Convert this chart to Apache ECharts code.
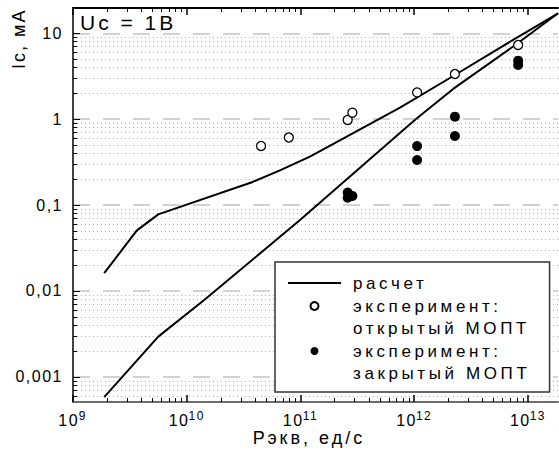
<!DOCTYPE html>
<html><head><meta charset="utf-8">
<script src="https://cdn.jsdelivr.net/npm/echarts@6/dist/echarts.min.js"></script>
<style>
html,body{margin:0;padding:0;background:#fff;}
#c{width:559px;height:454px;}
text[style*="lsA"]{letter-spacing:1.5px;}
text[style*="lsB"]{letter-spacing:3.6px;}
text[style*="lsC"]{letter-spacing:3px;}
text[style*="lsD"]{letter-spacing:2px;}
</style></head><body><div id="c"></div>
<script>
// ---- data ----
const calcOpenX   = [1.88e9, 3.63e9, 5.62e9, 3.8e10, 6.6e10, 1.21e11, 2.55e11, 7.5e11, 2.28e12, 8.2e12, 1.84e13];
const calcOpenY   = [0.0161, 0.0504, 0.078, 0.186, 0.254, 0.366, 0.626, 1.36, 3.27, 9.1, 17.1];
const calcClosedX = [1.88e9, 5.62e9, 1.45e10, 9.9e10, 1.03e12, 2.2e12, 8.0e12, 1.84e13];
const calcClosedY = [5.8e-4, 2.94e-3, 8.0e-3, 0.067, 1.0, 2.25, 7.55, 17.1];
const expOpenX    = [4.5e10, 7.9e10, 2.6e11, 2.86e11, 1.06e12, 2.28e12, 8.2e12];
const expOpenY    = [0.488, 0.612, 0.98, 1.19, 2.05, 3.36, 7.31];
const expClosedX  = [2.6e11, 2.6e11, 2.86e11, 1.06e12, 1.06e12, 2.28e12, 2.28e12, 8.2e12, 8.2e12];
const expClosedY  = [0.122, 0.14, 0.128, 0.486, 0.335, 1.07, 0.637, 4.8, 4.28];
const xMajor = [1e9, 1e10, 1e11, 1e12, 1e13];
const xExpLabels = ['9', '10', '11', '12', '13'];
const yMajor = [0.001, 0.01, 0.1, 1, 10];
const yLabels = ['0,001', '0,01', '0,1', '1', '10'];
const minorMult = [2, 3, 4, 5, 6, 7, 8, 9];
const xDecades = [1e9, 1e10, 1e11, 1e12, 1e13];
const yDecades = [1e-4, 1e-3, 1e-2, 1e-1, 1, 10];
const seriesNames = ['расчет', 'эксперимент:\nоткрытый МОПТ', 'эксперимент:\nзакрытый МОПТ'];
const titleText = 'Uc = 1В';
const xTitle = 'Рэкв, ед/с';
const yTitle = 'Ic, мА';
const xMin = 0.99999e9, xMax = 1.837e13;
const yMin = 5.1e-4, yMax = 19.7;

const xMinor = [], yMinor = [];
xDecades.forEach(d => minorMult.forEach(m => xMinor.push(m * d)));
yDecades.forEach(d => minorMult.forEach(m => yMinor.push(m * d)));
const pairs = (xs, ys) => xs.map((x, i) => [x, ys[i]]);

const F = 'Liberation Sans';
const chart = echarts.init(document.getElementById('c'), null, {renderer: 'svg', width: 559, height: 454});

function baseX(extra) {
  return Object.assign({
    type: 'log', logBase: 10, min: xMin, max: xMax, gridIndex: 0,
    axisLine: {show: false}, axisTick: {show: false}, axisLabel: {show: false},
    splitLine: {show: false}, minorTick: {show: false}, minorSplitLine: {show: false},
    nameMoveOverlap: false
  }, extra);
}
function baseY(extra) {
  return Object.assign({
    type: 'log', logBase: 10, min: yMin, max: yMax, gridIndex: 0,
    axisLine: {show: false}, axisTick: {show: false}, axisLabel: {show: false},
    splitLine: {show: false}, minorTick: {show: false}, minorSplitLine: {show: false},
    nameMoveOverlap: false
  }, extra);
}

const legendRich = {t: {fontFamily: F + ', lsB', fontSize: 17, color: '#000', lineHeight: 22}};

const option = {
  animation: false,
  backgroundColor: '#fff',
  textStyle: {fontFamily: F},
  graphic: [
    {
      type: 'text', x: 80, y: 22.5, silent: true, z: 10,
      style: {
        text: titleText, fontFamily: F + ', lsC', fontSize: 21, fill: '#000',
        align: 'left', verticalAlign: 'middle', textAlign: 'left', textVerticalAlign: 'middle'
      }
    },
    {
      type: 'text', x: 18.5, y: 69, rotation: Math.PI / 2, silent: true,
      style: {
        text: yTitle, fontFamily: F + ', lsD', fontSize: 18, fill: '#000',
        align: 'left', verticalAlign: 'middle', textAlign: 'left', textVerticalAlign: 'middle'
      }
    }
  ],
  grid: {left: 73, right: 1, top: 8, bottom: 52, containLabel: false, outerBoundsMode: 'none'},
  xAxis: [
    baseX({
      position: 'bottom',
      axisLine: {show: true, lineStyle: {color: '#6e6e6e', width: 2}},
      axisTick: {show: true, inside: true, length: 7, customValues: xMajor, lineStyle: {color: '#000', width: 1.5}},
      axisLabel: {
        show: true, margin: 8, customValues: xMajor,
        formatter: function (v) {
          const e = Math.round(Math.log10(v));
          const i = xMajor.findIndex(t => Math.abs(Math.log10(t) - e) < 1e-6);
          return '{b|10}{s|' + xExpLabels[i] + '}';
        },
        rich: {
          b: {fontSize: 16, fontFamily: F + ', lsA', color: '#000', verticalAlign: 'bottom', lineHeight: 18},
          s: {fontSize: 12, fontFamily: F + ', lsA', color: '#000', verticalAlign: 'bottom', lineHeight: 14, padding: [0, 0, 6, 2]}
        }
      },
      name: xTitle, nameLocation: 'middle', nameGap: 27,
      nameTextStyle: {fontFamily: F + ', lsC', fontSize: 18, color: '#000', padding: [0, 13, 0, 0]}
    }),
    baseX({
      position: 'bottom',
      axisTick: {show: true, inside: true, length: 4, customValues: xMinor, lineStyle: {color: '#000', width: 1}}
    }),
    baseX({
      position: 'top',
      axisLine: {show: true, lineStyle: {color: '#000', width: 2}},
      axisTick: {show: true, inside: true, length: 7, customValues: xMajor, lineStyle: {color: '#000', width: 1.5}}
    }),
    baseX({
      position: 'top',
      axisTick: {show: true, inside: true, length: 4, customValues: xMinor, lineStyle: {color: '#000', width: 1}}
    })
  ],
  yAxis: [
    baseY({
      position: 'left',
      axisLine: {show: true, lineStyle: {color: '#000', width: 1.5}},
      axisTick: {show: true, inside: true, length: 7, customValues: yMajor, lineStyle: {color: '#000', width: 1}},
      axisLabel: {
        show: true, margin: 10, customValues: yMajor,
        fontFamily: F + ', lsA', fontSize: 16, color: '#000',
        formatter: function (v) {
          const i = yMajor.findIndex(t => Math.abs(v / t - 1) < 1e-6);
          return i >= 0 ? yLabels[i] : '';
        }
      },
      splitLine: {show: true, lineStyle: {color: '#c4c4c4', width: 1.5, type: [17, 13]}}
    }),
    baseY({
      position: 'left',
      axisTick: {show: true, inside: true, length: 4, customValues: yMinor, lineStyle: {color: '#000', width: 1}},
      splitLine: {show: true, lineStyle: {color: '#b0b0b0', width: 1, type: [1, 3]}}
    })
  ],
  legend: {
    orient: 'vertical', left: 275, top: 262,
    padding: [10, 66, 8, 12],
    itemWidth: 53, itemHeight: 8, itemGap: -21,
    backgroundColor: '#fff', borderColor: '#333', borderWidth: 1.5, borderRadius: 0,
    selectedMode: false,
    formatter: function (name) {
      return name.split('\n').map(s => '{t|' + s + '}').join('\n');
    },
    textStyle: {fontFamily: F + ', lsB', fontSize: 17, color: '#000', lineHeight: 22, rich: legendRich},
    data: [
      {name: seriesNames[0], textStyle: {padding: [0, 0, 0, 7], rich: legendRich},
       itemStyle: {color: 'rgba(0,0,0,0)', borderWidth: 0, opacity: 0},
       lineStyle: {color: '#000', width: 2}},
      {name: seriesNames[1], textStyle: {padding: [22, 0, 0, 7], rich: legendRich}},
      {name: seriesNames[2], textStyle: {padding: [22, 0, 0, 7], rich: legendRich}}
    ]
  },
  series: [
    {
      name: seriesNames[0], type: 'line', xAxisIndex: 0, yAxisIndex: 0,
      data: pairs(calcOpenX, calcOpenY), symbol: 'none', showSymbol: false,
      lineStyle: {color: '#000', width: 2}, itemStyle: {color: '#000'}, z: 3
    },
    {
      name: seriesNames[0], type: 'line', xAxisIndex: 0, yAxisIndex: 0,
      data: pairs(calcClosedX, calcClosedY), symbol: 'none', showSymbol: false,
      lineStyle: {color: '#000', width: 2}, itemStyle: {color: '#000'}, z: 3
    },
    {
      name: seriesNames[1], type: 'scatter', xAxisIndex: 0, yAxisIndex: 0,
      data: pairs(expOpenX, expOpenY), symbol: 'circle', symbolSize: 9,
      itemStyle: {color: '#fff', borderColor: '#000', borderWidth: 1.3, opacity: 1}, z: 5
    },
    {
      name: seriesNames[2], type: 'scatter', xAxisIndex: 0, yAxisIndex: 0,
      data: pairs(expClosedX, expClosedY), symbol: 'circle', symbolSize: 10,
      itemStyle: {color: '#000', borderColor: '#000', borderWidth: 0, opacity: 1}, z: 5
    }
  ]
};
chart.setOption(option);
</script>
</body></html>
